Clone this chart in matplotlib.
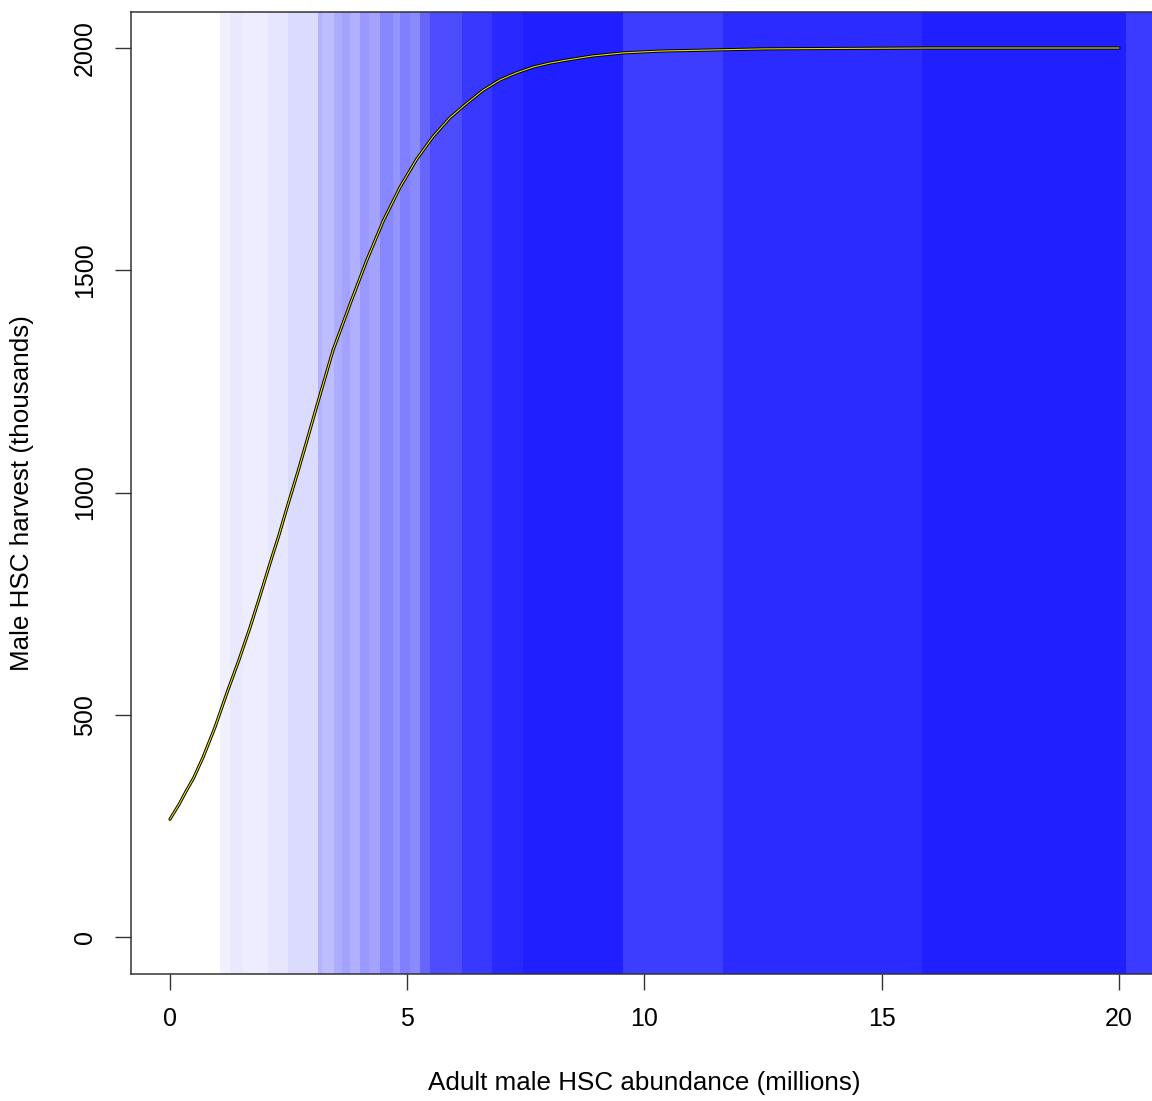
import numpy as np
import matplotlib.pyplot as plt

plt.rcParams['font.family'] = ['Liberation Sans', 'DejaVu Sans']

# harvest curve (abundance in millions, harvest in thousands)
abundance = [0.0, 0.2, 0.35, 0.5, 0.7, 0.95, 1.2, 1.45, 1.69, 1.9, 2.11, 2.3,
             2.47, 2.7, 2.89, 3.15, 3.44, 3.8, 4.15, 4.5, 4.85, 5.2, 5.54,
             5.9, 6.26, 6.6, 6.95, 7.3, 7.65, 8.0, 8.37, 8.9, 9.55, 10.3,
             11.17, 12.5, 14.0, 16.0, 20.0]
harvest = [265, 300, 330, 358, 405, 472, 549, 622, 697, 768, 841, 905,
           967, 1048, 1118, 1215, 1321, 1425, 1523, 1612, 1687, 1750, 1800,
           1843, 1876, 1905, 1928, 1944, 1957, 1966, 1973, 1982, 1989, 1993,
           1995, 1998, 1999, 2000, 2000]

# background bands: left edges (millions) and blue strength 0..1
band_left = [-0.82, 1.05, 1.26, 1.54, 2.07, 2.49, 3.12, 3.20, 3.45, 3.62, 3.80,
             4.00, 4.20, 4.43, 4.70, 4.85, 5.05, 5.27, 5.48, 6.15, 6.79,
             7.44, 9.55, 11.65, 15.85, 20.15]
band_shade = [0.0, 0.06, 0.09, 0.07, 0.10, 0.14, 0.30, 0.26, 0.32, 0.36, 0.31,
              0.40, 0.36, 0.47, 0.42, 0.50, 0.46, 0.60, 0.70, 0.78, 0.84,
              0.88, 0.76, 0.83, 0.88, 0.77]
band_right_end = 20.9

fig = plt.figure(figsize=(11.52, 11.01), dpi=100)
ax = fig.add_axes([131/1152, 127/1101, 1026/1152, 962/1101])

edges = band_left + [band_right_end]
for i, f in enumerate(band_shade):
    ax.axvspan(edges[i], edges[i+1], color=(1-f, 1-f, 1.0), lw=0, zorder=0)

ax.plot(abundance, harvest, color='black', lw=2.2, zorder=3, solid_capstyle='round')
ax.plot(abundance, harvest, color='#e8e000', lw=0.8, zorder=4, solid_capstyle='round')

ax.set_xlim(-0.82, 20.8)
ax.set_ylim(-83, 2081)
ax.set_xticks([0, 5, 10, 15, 20])
ax.set_yticks([0, 500, 1000, 1500, 2000])
ax.set_yticklabels(['0', '500', '1000', '1500', '2000'], rotation=90, va='center')
ax.tick_params(axis='both', length=11.5, width=1.0, labelsize=18, color='#333333')
ax.tick_params(axis='x', pad=12)
ax.tick_params(axis='y', pad=13)
for s in ax.spines.values():
    s.set_linewidth(1.1)
    s.set_color('#333333')

ax.set_xlabel('Adult male HSC abundance (millions)', fontsize=18.7, labelpad=29)
ax.set_ylabel('Male HSC harvest (thousands)', fontsize=18.7, labelpad=28)

fig.savefig('out.png', dpi=100)
